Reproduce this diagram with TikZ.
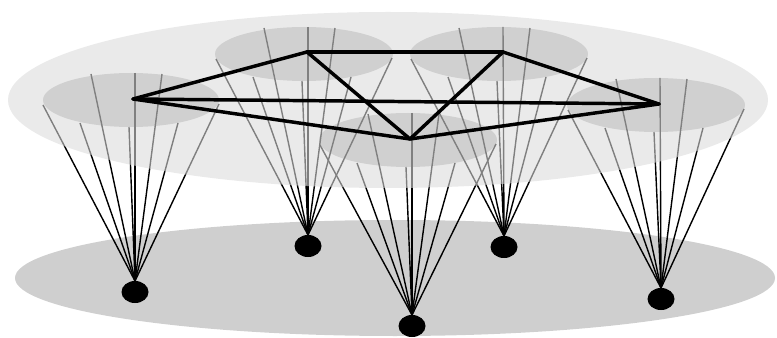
\documentclass[tikz,border=0pt]{standalone}
\begin{document}
\begin{tikzpicture}[x=0.75pt,y=-0.75pt,
  bigdisc/.style={fill=black!14,fill opacity=0.58},
  smalldisc/.style={fill=black!48,fill opacity=0.25},
  floor/.style={fill=black!19},
  cone/.style={black,line width=1.05pt},
  edge/.style={black,line width=2.6pt,line join=round,line cap=round},
  dot/.style={fill=black}]
\useasboundingbox (0,0) rectangle (777,338);
% bottom plane
\fill[floor] (395,278) ellipse [x radius=380, y radius=58];
% cones
\foreach \n/\cx/\cy/\ax/\ay in {L/131/100/135/281, TL/304/54/308/235, TR/499/54/504/236, C/408/140/412/315, R/656/105/661/288} {
  \coordinate (\n-apex) at (\ax,\ay);
  \foreach \i/\dx/\dy in {1/-88/5, 2/-40/-26, 3/-51/23, 4/4/-27, 5/-2/27, 6/31/-26, 7/47/23, 8/88/4} {
    \coordinate (\n-\i) at (\cx+\dx,\cy+\dy);
    \draw[cone] (\n-\i) -- (\n-apex);
  }
}
% upper plane and discs
\fill[bigdisc] (388,100) ellipse [x radius=380, y radius=88];
\fill[smalldisc] (131,100) ellipse [x radius=88, y radius=27];
\fill[smalldisc] (304,54) ellipse [x radius=89, y radius=27];
\fill[smalldisc] (499,54) ellipse [x radius=89, y radius=27];
\fill[smalldisc] (408,140) ellipse [x radius=89, y radius=27];
\fill[smalldisc] (656,105) ellipse [x radius=89, y radius=27];
% dots
\fill[dot] (135,292) ellipse [x radius=13.5, y radius=11];
\fill[dot] (308,246) ellipse [x radius=13.5, y radius=11];
\fill[dot] (504,247) ellipse [x radius=13.5, y radius=11];
\fill[dot] (412,326) ellipse [x radius=13.5, y radius=11];
\fill[dot] (661,299) ellipse [x radius=13.5, y radius=11];
% graph
\coordinate (a) at (133,99);
\coordinate (b) at (307,52);
\coordinate (c) at (503,52);
\coordinate (d) at (410,139);
\coordinate (e) at (659,104);
\draw[edge] (a) -- (b);
\draw[edge] (b) -- (c);
\draw[edge] (c) -- (e);
\draw[edge] (e) -- (d);
\draw[edge] (d) -- (a);
\draw[edge] (a) -- (e);
\draw[edge] (b) -- (d);
\draw[edge] (c) -- (d);
\end{tikzpicture}
\end{document}
